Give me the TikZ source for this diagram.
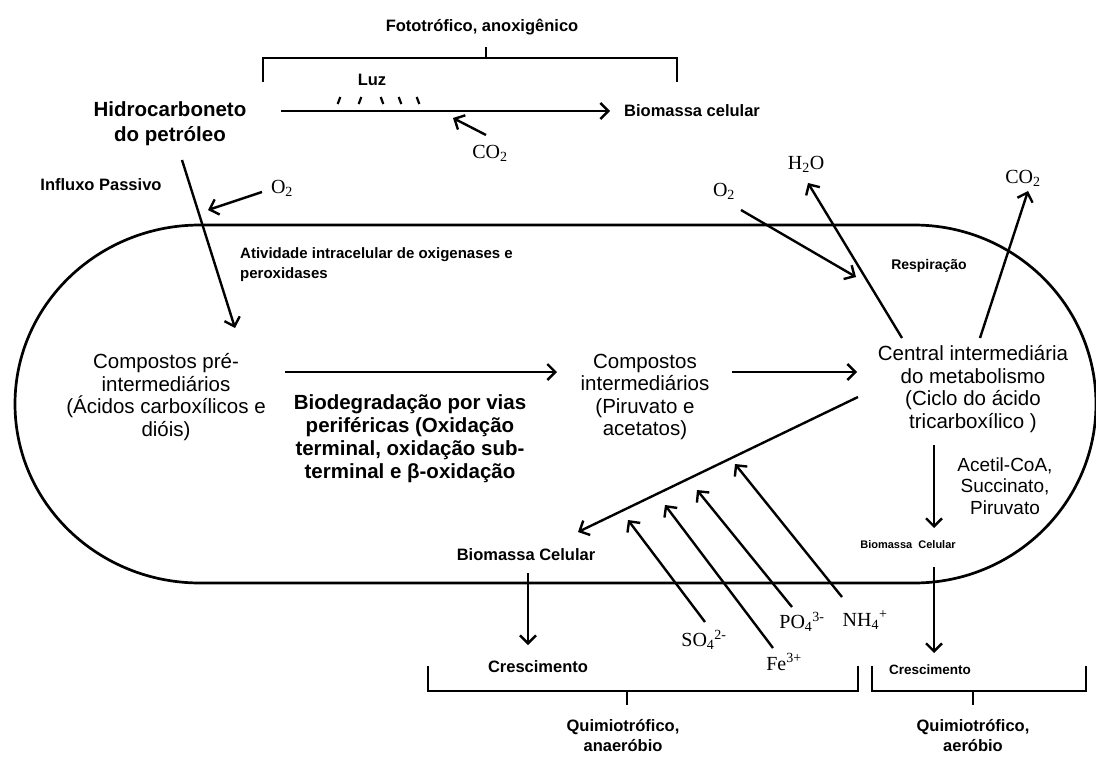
\documentclass[tikz,border=0pt]{standalone}
\usepackage{fontspec}
\setmainfont{Liberation Sans}
\newfontfamily\chemfont{Liberation Serif}
\usepackage{tikz}
\usetikzlibrary{arrows.meta,calc}
\tikzstyle{arrow} = [line width=2.4pt, -{Straight Barb[length=8pt,width=16pt]}]
\tikzstyle{bigtext} = [font=\fontsize{20.5}{25}\selectfont\bfseries, align=center, inner sep=0pt]
\tikzstyle{bodytext} = [font=\fontsize{20.5}{22.5}\selectfont, align=center, inner sep=0pt]
\tikzstyle{tag} = [font=\fontsize{16.5}{21}\selectfont\bfseries, align=center, inner sep=0pt]
\tikzstyle{chem} = [font=\chemfont\fontsize{20}{22}\selectfont, inner sep=0pt]
\tikzstyle{bracket} = [line width=2.5pt]
\tikzstyle{cell} = [line width=2.7pt]

\begin{document}
\begin{tikzpicture}[x=1pt, y=-1pt]
\useasboundingbox (0,0) rectangle (1096,758);

% Cell
\draw[cell] (200,225) -- (914,225) .. controls (1014.5,225) and (1096,305.1) .. (1096,404)
  .. controls (1096,502.9) and (1014.5,583) .. (914,583) -- (200,583)
  .. controls (97.8,583) and (15,502.9) .. (15,404) .. controls (15,305.1) and (97.8,225) .. (200,225) -- cycle;

% Phototrophic branch
\node (foto) [tag] at (482,27) {Fototrófico, anoxigênico};
\draw[bracket] (263,82) -- (263,58) -- (677,58) -- (677,82);
\draw[bracket] (486,58) -- (486,47);
\node (luz) [tag] at (372,80) {Luz};
\foreach \x/\s in {339/1,360/1,382/-1,400/-1,418/-1}
  \draw[line width=2.2pt] (\x-\s*1.3,104) -- (\x+\s*1.3,97);
\node (hidro) [bigtext] at (170,124) {Hidrocarboneto\\do petróleo};
\node (biotop) [tag, anchor=west] at (624,111) {Biomassa celular};
\node (co2top) [chem] at (490,153) {CO\textsubscript{2}};
\draw[arrow] ($(hidro)+(111,-13)$) -- ($(biotop.west)+(-14,0)$);
\draw[arrow] ($(co2top)+(-4,-18)$) -- ($(co2top)+(-37,-35)$);

% Passive influx
\node (influxo) [tag] at (101,185) {Influxo Passivo};
\node (o2a) [chem] at (282,188) {O\textsubscript{2}};
\draw[arrow] ($(o2a)+(-20,4)$) -- ($(o2a)+(-74,22)$);
\node (ativ) [tag, font=\fontsize{15}{20}\selectfont\bfseries, align=left, anchor=north west] at (240,247) {Atividade intracelular de oxigenases e\\peroxidases};

% Peripheral pathways
\node (pre) [bodytext] at (166,397) {Compostos pré-\\intermediários\\(Ácidos carboxílicos e\\dióis)};
\node (biodeg) [bigtext, font=\fontsize{20.5}{23}\selectfont\bfseries] at (410,439) {Biodegradação por vias\\periféricas (Oxidação\\terminal, oxidação sub-\\terminal e β-oxidação};
\node (inter) [bodytext] at (645,397) {Compostos\\intermediários\\(Piruvato e\\acetatos)};
\node (central) [bodytext] at (973,389) {Central intermediária\\do metabolismo\\(Ciclo do ácido\\tricarboxílico )};
\draw[arrow] ($(hidro)+(12,36)$) -- ($(pre)+(69,-69)$);
\draw[arrow] ($(pre)+(119,-25)$) -- ($(inter)+(-88,-25)$);
\draw[arrow] ($(inter)+(87,-25)$) -- ($(central)+(-116,-17)$);

% Respiration
\node (o2b) [chem] at (724,191) {O\textsubscript{2}};
\node (h2o) [chem] at (806,164) {H\textsubscript{2}O};
\node (co2b) [chem] at (1023,178) {CO\textsubscript{2}};
\node (resp) [tag, font=\fontsize{14}{17}\selectfont\bfseries] at (929,266) {Respiração};
\draw[arrow] ($(o2b)+(17,19)$) -- ($(central)+(-117,-112)$);
\draw[arrow] ($(central)+(-71,-51)$) -- ($(h2o)+(2,19)$);
\draw[arrow] ($(central)+(7,-51)$) -- ($(co2b)+(5,13)$);

% Aerobic growth
\node (acetil) [bodytext, font=\fontsize{19}{21.5}\selectfont] at (1005,486) {Acetil-CoA,\\Succinato,\\Piruvato};
\node (biodir) [tag, font=\fontsize{11}{13}\selectfont\bfseries] at (908,545) {Biomassa\ \ Celular};
\node (cresdir) [tag, font=\fontsize{13.5}{16}\selectfont\bfseries] at (930,670) {Crescimento};
\draw[arrow] ($(central)+(-39,56)$) -- ($(biodir)+(26,-17)$);
\draw[arrow] ($(biodir)+(26,22)$) -- ($(cresdir)+(4,-17)$);

% Anaerobic growth
\node (bioesq) [tag] at (526,555) {Biomassa Celular};
\node (cresesq) [tag] at (538,667) {Crescimento};
\draw[arrow] ($(central)+(-115,8)$) -- ($(bioesq)+(52,-23)$);
\draw[arrow] ($(bioesq)+(2,18)$) -- ($(cresesq)+(-10,-22)$);

% Nutrients
\node (so4) [chem] at (704,640) {SO\textsubscript{4}\textsuperscript{2-}};
\node (fe) [chem] at (784,662) {Fe\textsuperscript{3+}};
\node (po4) [chem] at (802,622) {PO\textsubscript{4}\textsuperscript{3-}};
\node (nh4) [chem] at (865,620) {NH\textsubscript{4}\textsuperscript{+}};
\foreach \n/\ax/\ay/\dx/\dy in {so4/1/-18/-77/-102, fe/-11/-14/-108/-143, po4/-10/-15/-95/-117, nh4/-23/-23/-107/-133}
  \draw[arrow] ($(\n)+(\ax,\ay)$) -- ++(\dx,\dy);

% Brackets
\draw[bracket] (428,666) -- (428,691) -- (858,691) -- (858,666);
\draw[bracket] (627,691) -- (627,705);
\draw[bracket] (872,666) -- (872,691) -- (1086,691) -- (1086,666);
\draw[bracket] (973,691) -- (973,705);
\node (quimesq) [tag, font=\fontsize{16.5}{20}\selectfont\bfseries] at (623,736) {Quimiotrófico,\\anaeróbio};
\node (quimdir) [tag, font=\fontsize{16.5}{20}\selectfont\bfseries] at (973,736) {Quimiotrófico,\\aeróbio};
\end{tikzpicture}
\end{document}
